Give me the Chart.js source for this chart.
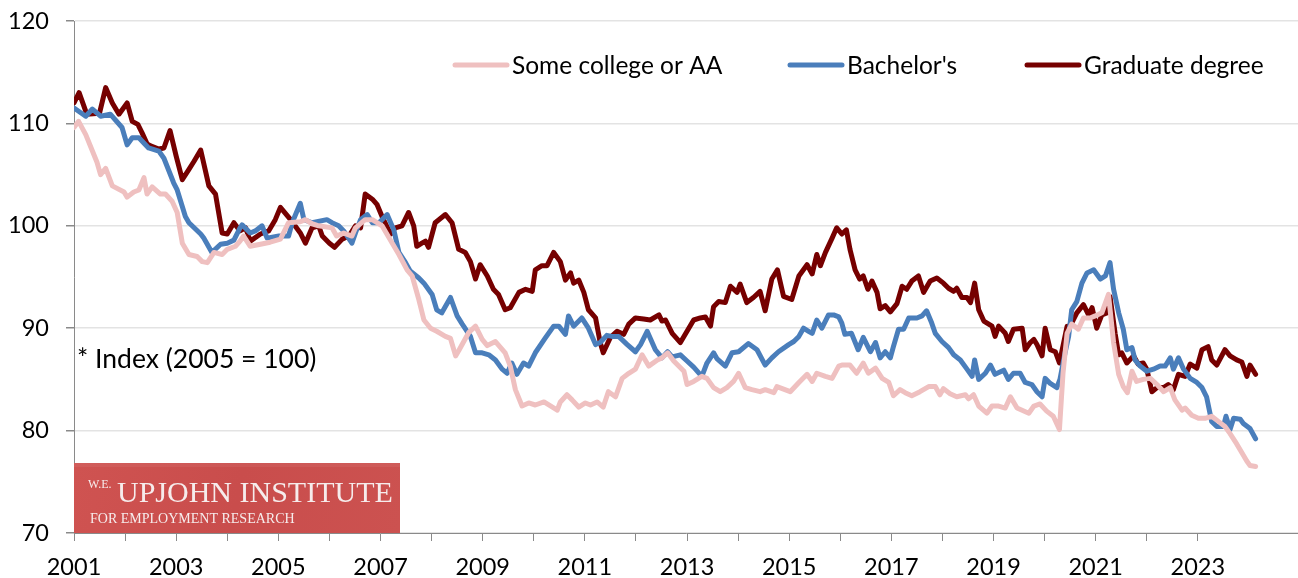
<!DOCTYPE html>
<html>
    <head>
        <title>Index by education</title>
        <meta charset="UTF-8" />
        <script src="https://cdn.jsdelivr.net/npm/chart.js"></script>
        <style>
            body { margin: 0; background: #fff; }
            #wrap { width: 1298px; height: 578px; }
        </style>
    </head>
    <body>
        <div id="wrap"><canvas id="myChart" width="1298" height="578"></canvas></div>
        <script>
            // data (decimal years, index 2005 = 100)
            var someCollegeYears = [2001.00,2001.09,2001.23,2001.45,2001.52,2001.62,2001.75,2001.98,2002.04,2002.17,2002.27,2002.37,2002.43,2002.53,2002.69,2002.79,2002.92,2003.02,2003.12,2003.25,2003.41,2003.51,2003.61,2003.74,2003.90,2004.00,2004.16,2004.25,2004.32,2004.45,2004.65,2004.84,2005.04,2005.20,2005.43,2005.53,2005.66,2005.79,2006.05,2006.14,2006.28,2006.44,2006.51,2006.70,2006.84,2007.03,2007.23,2007.36,2007.52,2007.62,2007.75,2007.85,2007.98,2008.10,2008.27,2008.37,2008.47,2008.53,2008.73,2008.86,2008.99,2009.09,2009.25,2009.44,2009.54,2009.64,2009.77,2009.90,2010.03,2010.20,2010.46,2010.52,2010.65,2010.75,2010.88,2011.01,2011.11,2011.24,2011.36,2011.46,2011.60,2011.73,2011.86,2011.99,2012.12,2012.25,2012.42,2012.51,2012.62,2012.74,2012.94,2013.00,2013.13,2013.29,2013.39,2013.52,2013.65,2013.78,2013.91,2014.01,2014.14,2014.27,2014.43,2014.53,2014.70,2014.76,2015.02,2015.19,2015.35,2015.45,2015.54,2015.71,2015.84,2015.97,2016.03,2016.19,2016.32,2016.45,2016.55,2016.69,2016.82,2016.95,2017.04,2017.17,2017.27,2017.40,2017.56,2017.73,2017.86,2017.95,2018.02,2018.15,2018.28,2018.45,2018.51,2018.61,2018.71,2018.87,2018.97,2019.10,2019.23,2019.33,2019.46,2019.69,2019.79,2019.91,2020.04,2020.17,2020.29,2020.36,2020.44,2020.53,2020.66,2020.76,2020.89,2020.99,2021.12,2021.25,2021.35,2021.45,2021.54,2021.62,2021.71,2021.80,2021.93,2022.07,2022.20,2022.33,2022.46,2022.55,2022.69,2022.75,2022.88,2023.01,2023.14,2023.27,2023.40,2023.53,2023.63,2023.76,2023.83,2023.96,2024.02,2024.13];
            var someCollegeVals = [109.6,110.2,108.9,106.2,105.0,105.6,103.9,103.3,102.8,103.3,103.5,104.7,103.1,103.8,103.1,103.1,102.4,101.3,98.3,97.2,97.0,96.5,96.4,97.4,97.2,97.7,98.0,98.5,99.0,98.0,98.2,98.4,98.7,100.3,100.4,100.6,100.2,100.0,99.8,99.0,99.3,99.0,99.8,100.6,100.6,100.0,98.3,97.2,95.7,95.1,92.8,90.8,90.0,89.7,89.2,89.0,87.3,87.8,89.6,90.2,88.9,88.3,88.7,87.6,86.3,84.0,82.4,82.7,82.5,82.8,82.0,82.8,83.5,83.0,82.3,82.7,82.5,82.8,82.3,83.8,83.3,85.1,85.6,86.0,87.4,86.3,86.9,87.1,87.6,86.8,85.8,84.5,84.8,85.3,85.1,84.2,83.8,84.2,84.8,85.6,84.2,84.0,83.8,84.0,83.7,84.3,83.8,84.7,85.5,84.8,85.6,85.3,85.1,86.3,86.4,86.4,85.6,86.6,85.6,86.1,85.1,84.7,83.4,84.0,83.7,83.4,83.8,84.3,84.3,83.5,84.1,83.6,83.3,83.5,83.1,83.5,82.4,81.7,82.4,82.4,82.2,83.3,82.2,81.7,82.4,82.6,81.9,81.4,80.1,85.6,89.5,90.4,89.9,91.0,91.0,91.2,91.5,93.3,88.6,85.5,84.3,83.7,85.8,84.8,85.0,85.1,84.5,83.8,84.2,83.0,82.0,82.2,81.5,81.2,81.2,81.4,80.9,80.4,79.7,78.7,78.1,77.0,76.6,76.5];

            var bachelorYears = [2001.00,2001.23,2001.36,2001.52,2001.71,2001.94,2002.04,2002.14,2002.27,2002.46,2002.66,2002.76,2002.95,2003.02,2003.18,2003.25,2003.48,2003.54,2003.70,2003.87,2004.00,2004.13,2004.25,2004.29,2004.45,2004.55,2004.68,2004.78,2005.01,2005.20,2005.27,2005.43,2005.50,2005.66,2005.95,2006.05,2006.18,2006.28,2006.44,2006.51,2006.61,2006.74,2006.84,2006.97,2007.13,2007.26,2007.36,2007.49,2007.58,2007.75,2007.85,2008.01,2008.10,2008.20,2008.37,2008.50,2008.60,2008.76,2008.86,2008.99,2009.12,2009.25,2009.38,2009.48,2009.57,2009.67,2009.80,2009.90,2010.03,2010.22,2010.39,2010.49,2010.62,2010.68,2010.78,2010.94,2011.07,2011.21,2011.30,2011.43,2011.53,2011.66,2011.83,2011.99,2012.09,2012.22,2012.38,2012.51,2012.62,2012.71,2012.87,2013.00,2013.13,2013.29,2013.39,2013.52,2013.59,2013.75,2013.88,2014.01,2014.20,2014.37,2014.53,2014.66,2014.79,2014.99,2015.09,2015.19,2015.28,2015.38,2015.45,2015.54,2015.64,2015.77,2015.87,2015.97,2016.03,2016.09,2016.22,2016.35,2016.45,2016.59,2016.69,2016.78,2016.88,2016.98,2017.04,2017.14,2017.24,2017.34,2017.50,2017.60,2017.69,2017.79,2017.86,2017.99,2018.12,2018.22,2018.35,2018.48,2018.58,2018.63,2018.71,2018.84,2018.94,2019.03,2019.20,2019.29,2019.39,2019.52,2019.62,2019.75,2019.85,2019.95,2020.01,2020.11,2020.24,2020.30,2020.40,2020.47,2020.53,2020.63,2020.73,2020.83,2020.96,2021.09,2021.19,2021.28,2021.35,2021.45,2021.54,2021.61,2021.71,2021.77,2021.87,2022.00,2022.13,2022.26,2022.36,2022.46,2022.52,2022.62,2022.72,2022.85,2022.98,2023.08,2023.17,2023.27,2023.37,2023.50,2023.55,2023.63,2023.70,2023.83,2023.89,2024.02,2024.13];
            var bachelorVals = [111.5,110.7,111.4,110.7,110.9,109.6,107.9,108.6,108.6,107.6,107.3,106.6,104.2,103.5,100.9,100.3,99.2,98.8,97.4,98.2,98.3,98.6,99.8,100.1,99.3,99.5,100.0,98.8,99.0,99.0,100.3,102.2,100.6,100.3,100.6,100.3,100.0,99.5,98.3,99.3,100.6,101.1,100.3,100.3,101.1,99.6,97.4,96.4,95.6,94.9,94.4,93.3,91.8,91.5,93.0,91.2,90.4,89.2,87.6,87.6,87.4,86.9,86.0,85.6,86.6,85.5,86.6,86.3,87.6,89.0,90.2,90.2,89.4,91.2,90.2,91.0,90.0,88.4,88.6,89.3,89.2,89.2,88.4,87.7,88.4,89.7,87.9,87.1,87.7,87.2,87.4,86.8,86.2,85.3,86.6,87.6,87.0,86.3,87.6,87.7,88.5,87.9,86.4,87.1,87.7,88.4,88.7,89.2,90.0,89.7,89.5,90.8,90.0,91.3,91.3,91.1,90.5,89.4,89.5,87.9,89.1,87.7,88.6,87.1,87.7,87.1,88.2,89.9,89.9,91.0,91.0,91.2,91.7,90.5,89.5,88.7,88.1,87.4,86.9,86.0,85.3,86.9,85.0,85.6,86.4,85.5,85.9,85.0,85.6,85.6,84.7,84.5,83.8,83.3,85.1,84.6,84.2,85.0,87.6,89.2,91.8,92.6,94.4,95.4,95.7,94.8,95.1,96.4,93.8,91.5,89.9,87.9,88.1,86.9,86.3,85.8,86.0,86.3,86.3,87.1,86.0,87.1,86.0,85.1,84.7,84.2,83.3,80.9,80.4,80.4,81.4,80.1,81.2,81.1,80.7,80.2,79.2];

            var gradYears = [2001.00,2001.10,2001.25,2001.50,2001.62,2001.75,2001.88,2002.04,2002.14,2002.25,2002.33,2002.43,2002.50,2002.66,2002.76,2002.88,2003.00,2003.12,2003.25,2003.35,2003.48,2003.64,2003.77,2003.90,2004.00,2004.13,2004.25,2004.36,2004.45,2004.65,2004.81,2004.94,2005.04,2005.24,2005.43,2005.53,2005.66,2005.79,2005.86,2006.00,2006.10,2006.25,2006.38,2006.51,2006.61,2006.70,2006.84,2006.93,2007.03,2007.20,2007.29,2007.42,2007.55,2007.65,2007.71,2007.81,2007.88,2007.94,2008.07,2008.27,2008.40,2008.53,2008.66,2008.76,2008.86,2008.95,2009.09,2009.21,2009.31,2009.44,2009.54,2009.71,2009.84,2009.97,2010.03,2010.16,2010.26,2010.39,2010.52,2010.62,2010.72,2010.78,2010.88,2010.98,2011.07,2011.21,2011.30,2011.36,2011.50,2011.63,2011.76,2011.86,2011.99,2012.15,2012.28,2012.45,2012.51,2012.58,2012.71,2012.87,2013.00,2013.13,2013.26,2013.36,2013.46,2013.52,2013.62,2013.75,2013.85,2013.98,2014.04,2014.17,2014.30,2014.43,2014.53,2014.66,2014.77,2014.89,2015.05,2015.19,2015.35,2015.45,2015.54,2015.61,2015.71,2015.84,2015.93,2016.03,2016.12,2016.19,2016.29,2016.38,2016.45,2016.54,2016.62,2016.72,2016.78,2016.88,2016.98,2017.11,2017.21,2017.30,2017.40,2017.53,2017.63,2017.76,2017.89,2018.02,2018.12,2018.22,2018.28,2018.38,2018.48,2018.55,2018.63,2018.71,2018.81,2018.97,2019.03,2019.10,2019.23,2019.29,2019.39,2019.56,2019.62,2019.72,2019.79,2019.85,2019.95,2020.01,2020.11,2020.21,2020.29,2020.44,2020.50,2020.63,2020.76,2020.86,2020.93,2021.02,2021.12,2021.22,2021.28,2021.38,2021.45,2021.51,2021.61,2021.74,2021.83,2021.93,2022.00,2022.10,2022.20,2022.33,2022.42,2022.52,2022.62,2022.75,2022.85,2022.98,2023.08,2023.20,2023.27,2023.37,2023.53,2023.63,2023.76,2023.86,2023.96,2024.02,2024.13];
            var gradVals = [112.0,113.0,110.9,111.0,113.5,112.0,110.9,112.0,110.2,109.9,109.1,108.0,107.8,107.5,107.6,109.3,106.8,104.5,105.5,106.3,107.4,103.9,103.1,99.3,99.2,100.3,99.5,99.8,98.5,99.2,99.5,100.6,101.8,100.6,99.3,98.3,99.8,100.0,99.0,98.3,97.9,98.7,99.0,100.0,99.8,103.1,102.6,102.1,100.9,99.2,99.8,100.0,101.3,100.0,98.0,98.3,98.5,97.9,100.3,101.1,100.3,97.7,97.4,96.5,94.8,96.2,95.1,93.8,93.3,91.8,92.0,93.5,93.8,93.6,95.7,96.1,96.1,97.4,96.5,94.7,95.4,94.4,94.7,93.5,91.8,91.0,88.6,87.6,89.1,89.7,89.4,90.4,91.0,90.9,90.8,91.3,90.7,90.8,89.5,88.6,89.7,90.8,91.0,91.1,90.2,92.1,92.6,92.5,94.1,93.5,94.3,92.5,93.0,93.6,91.7,94.8,95.7,93.1,92.8,95.1,96.2,95.3,97.2,96.1,97.4,98.8,99.8,99.2,99.6,97.7,95.7,94.8,95.1,93.8,94.6,93.5,91.9,92.2,91.6,92.4,94.1,93.8,94.6,95.1,93.5,94.6,94.9,94.4,93.9,93.6,93.9,93.0,93.0,92.5,94.4,91.8,90.7,90.2,89.2,90.2,89.5,88.7,89.9,90.0,87.9,88.6,88.9,88.4,87.3,90.0,87.9,87.7,86.6,90.2,90.2,91.5,92.3,91.3,92.0,90.0,91.3,91.5,93.1,89.5,87.4,87.6,86.6,87.3,86.5,86.6,86.0,83.8,84.2,84.2,84.5,84.0,85.5,85.3,86.5,86.1,87.9,88.2,86.9,86.4,87.9,87.3,86.9,86.7,85.3,86.4,85.5];

            var seriesNames = ['Some college or AA', "Bachelor's", 'Graduate degree'];
            var seriesColors = ['#efc0c0', '#4a7ebb', '#760000'];
            var yTicks = [70, 80, 90, 100, 110, 120];
            var note = '* Index (2005 = 100)';

            function toPoints(xs, ys) {
                return xs.map(function (x, i) { return { x: x, y: ys[i] }; });
            }

            var font = 'Lato, "Open Sans", sans-serif';

            // legend, note and logo drawn straight on the canvas
            var extras = {
                id: 'extras',
                afterDraw: function (chart) {
                    var c = chart.ctx;
                    c.save();
                    // legend inside the plot
                    var starts = [453, 788, 1025];
                    var ly = 65;
                    c.font = '24.5px ' + font;
                    c.textBaseline = 'middle';
                    c.fillStyle = '#000';
                    chart.data.datasets.forEach(function (ds, i) {
                        c.strokeStyle = ds.borderColor;
                        c.lineWidth = 5;
                        c.lineCap = 'round';
                        c.beginPath();
                        c.moveTo(starts[i] + 2, ly);
                        c.lineTo(starts[i] + 54, ly);
                        c.stroke();
                        c.fillText(ds.label, starts[i] + 59, ly + 1);
                    });
                    // index note
                    c.font = '26.5px ' + font;
                    c.fillText(note, 77, 359);

                    // logo box
                    var bx = 74, by = 463, bw = 326, bh = 70;
                    var g = c.createLinearGradient(bx, by, bx + bw, by + bh);
                    g.addColorStop(0, '#cf5351');
                    g.addColorStop(0.5, '#c94d4c');
                    g.addColorStop(1, '#cc5250');
                    c.fillStyle = g;
                    c.fillRect(bx, by, bw, bh);
                    c.fillStyle = 'rgba(255,255,255,0.06)';
                    c.fillRect(bx, by, bw, 4);
                    c.fillStyle = '#f6ecec';
                    c.textBaseline = 'alphabetic';
                    c.font = '12px "Liberation Serif", serif';
                    c.fillText('W.E.', 88, 488);
                    c.font = '30px "Liberation Serif", serif';
                    c.fillText('UPJOHN INSTITUTE', 117, 502);
                    c.font = '14px "Liberation Serif", serif';
                    c.fillText('FOR EMPLOYMENT RESEARCH', 90, 523);
                    c.restore();
                }
            };

            var ctx = document.getElementById('myChart').getContext('2d');
            var myChart = new Chart(ctx, {
                type: 'line',
                data: {
                    datasets: [
                        { label: seriesNames[0], data: toPoints(someCollegeYears, someCollegeVals) },
                        { label: seriesNames[1], data: toPoints(bachelorYears, bachelorVals) },
                        { label: seriesNames[2], data: toPoints(gradYears, gradVals) }
                    ].map(function (ds, i) {
                        ds.borderColor = seriesColors[i];
                        ds.backgroundColor = seriesColors[i];
                        ds.borderWidth = 5;
                        ds.pointRadius = 0;
                        ds.tension = 0;
                        ds.fill = false;
                        ds.borderJoinStyle = 'round';
                        ds.borderCapStyle = 'round';
                        return ds;
                    })
                },
                options: {
                    responsive: false,
                    animation: false,
                    layout: { padding: { top: 21, left: 0, right: 0, bottom: 0 } },
                    plugins: { legend: { display: false }, tooltip: { enabled: false } },
                    scales: {
                        x: {
                            type: 'linear',
                            min: 2001,
                            max: 2024.96,
                            afterBuildTicks: function (s) {
                                s.ticks = s.ticks.filter(function (t) { return Number.isInteger(t.value); });
                            },
                            afterFit: function (s) { s.height = 45; s.paddingLeft = 0; s.paddingRight = 0; },
                            border: { color: '#8a8a8a', width: 1 },
                            grid: { drawOnChartArea: false, tickLength: 8, tickColor: '#8a8a8a' },
                            ticks: {
                                stepSize: 1,
                                autoSkip: false,
                                maxRotation: 0,
                                padding: 12,
                                color: '#000',
                                font: { family: font, size: 23.5 },
                                callback: function (v) { return v % 2 === 1 ? String(v) : ''; }
                            }
                        },
                        y: {
                            min: 70,
                            max: 120,
                            afterBuildTicks: function (s) {
                                s.ticks = yTicks.map(function (v) { return { value: v }; });
                            },
                            afterFit: function (s) { s.width = 74; s.paddingTop = 0; s.paddingBottom = 0; },
                            border: { color: '#8a8a8a', width: 1 },
                            grid: { color: '#e3e3e3', lineWidth: 1.5, tickLength: 8, tickColor: '#8a8a8a' },
                            ticks: {
                                padding: 17,
                                color: '#000',
                                font: { family: font, size: 23.5 }
                            }
                        }
                    }
                },
                plugins: [extras]
            });
        </script>
    </body>
</html>
